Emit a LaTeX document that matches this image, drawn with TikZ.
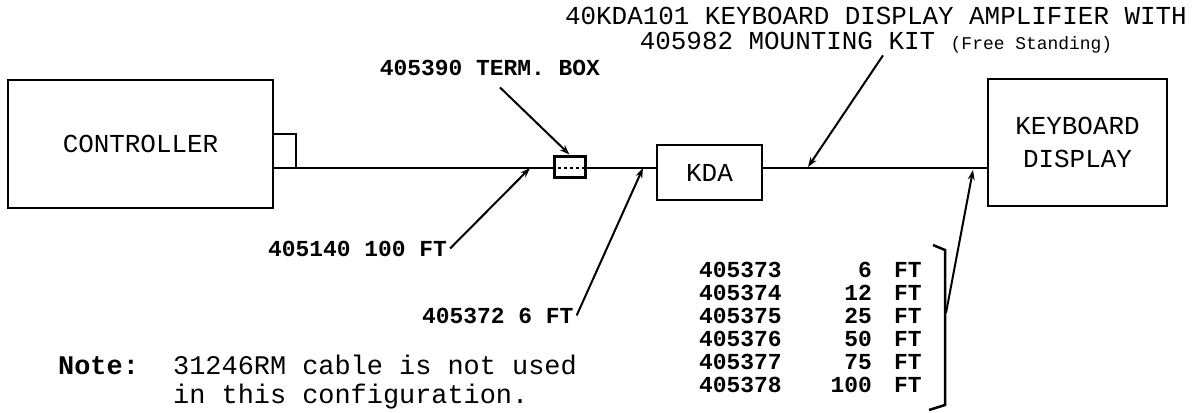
\documentclass[tikz,border=0pt]{standalone}
\usepackage{fontspec}
\setmainfont{Liberation Mono}
\usetikzlibrary{positioning, arrows.meta}

\tikzset{
  unit/.style={draw, line width=2.5bp, align=center, font=\fontsize{26}{34}\selectfont},
  cable/.style={line width=2.5bp},
  lead/.style={-{Stealth[length=10bp, width=7bp]}, line width=2bp},
  lbl/.style={inner sep=0pt, font=\fontsize{23}{27}\selectfont\bfseries},
  head/.style={inner sep=0pt, align=center, font=\fontsize{26}{25}\selectfont},
  notetxt/.style={inner sep=0pt, font=\fontsize{27}{29}\selectfont}
}

\begin{document}
\begin{tikzpicture}[x=1bp, y=-1bp]
  \useasboundingbox (0,0) rectangle (1194,412);

  % units on the cable
  \node[unit, minimum width=265bp, minimum height=128bp] (ctrl) at (140.5,144) {CONTROLLER};
  \node[draw, line width=3bp, minimum width=31bp, minimum height=21bp] (termbox) at (569.5,166.5) {};
  \node[unit, minimum width=105bp, minimum height=55bp] (kda) at (709.5,172.5) {KDA};
  \node[unit, minimum width=179bp, minimum height=127bp] (kbd) at (1077.5,142.5) {KEYBOARD\\DISPLAY};

  % cable run
  \coordinate (tap) at (296,168);
  \draw[cable] ([yshift=10bp]ctrl.east) -| (tap);
  \draw[cable] (ctrl.east |- tap) -- (termbox.west |- tap);
  \draw[cable, dashed] (termbox.west |- tap) -- (termbox.east |- tap);
  \draw[cable] (termbox.east |- tap) -- (kda.west |- tap);
  \draw[cable] (kda.east |- tap) -- (kbd.west |- tap);

  % part numbers
  \node[head, anchor=north] (amp) at (876,7) {40KDA101 KEYBOARD DISPLAY AMPLIFIER WITH\\405982 MOUNTING KIT {\fontsize{18}{20}\selectfont(Free Standing)}};
  \node[lbl, anchor=base] (termlbl) at (490,75) {405390 TERM. BOX};
  \node[lbl, anchor=base west] (l140) at (268,256) {405140 100 FT};
  \node[lbl, anchor=base west] (l372) at (422,323) {405372 6 FT};

  % cable lengths
  \foreach \pn/\ft [count=\i from 0] in {405373/6, 405374/12, 405375/25, 405376/50, 405377/75, 405378/100} {
    \node[lbl, anchor=base west] (pn\i) at (699,{277.5+23*\i}) {\pn};
    \node[lbl, anchor=base east] (len\i) at (872,{277.5+23*\i}) {\ft};
    \node[lbl, anchor=base west] (ft\i) at (894,{277.5+23*\i}) {FT};
  }
  \draw[cable] (933,245) -- (945,250) -- (945,405) -- (929,410);
  \coordinate (brk) at (946,313);

  % leaders
  \coordinate (c140) at (530,168);
  \coordinate (c372) at (643,168);
  \coordinate (camp) at (808,167);
  \coordinate (clen) at (973,170);
  \draw[lead] ([xshift=10bp, yshift=-12bp]termlbl.south) -- (termbox.north);
  \draw[lead] ([xshift=3bp]l140.east) -- (c140);
  \draw[lead] ([xshift=3bp]l372.east) -- (c372);
  \draw[lead] ([xshift=7bp, yshift=-2bp]amp.south) -- (camp);
  \draw[lead] (brk) -- (clen);

  % note
  \node[notetxt, anchor=base west] (notehd) at (58,374) {\textbf{Note:}};
  \node[notetxt, anchor=base west] (note1) at (173,374) {31246RM cable is not used};
  \node[notetxt, anchor=base west] (note2) at (173,403) {in this configuration.};
\end{tikzpicture}
\end{document}
